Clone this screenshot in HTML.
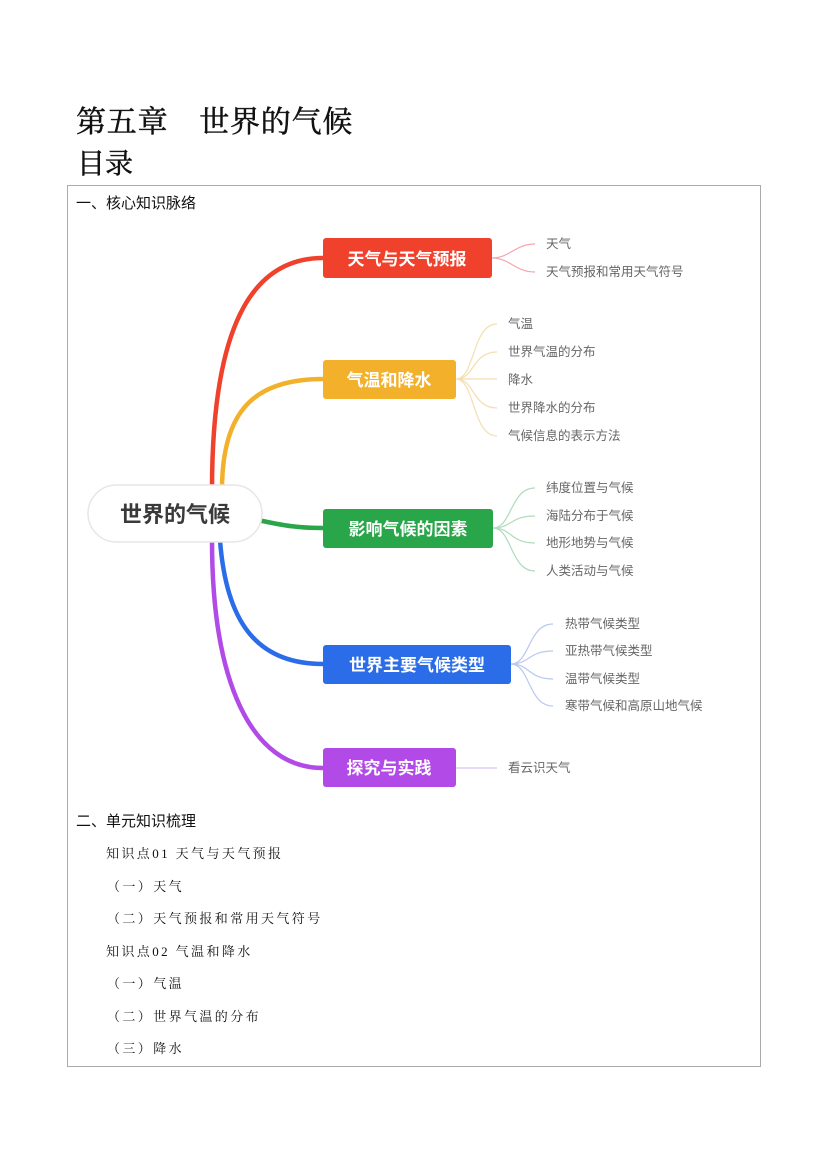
<!DOCTYPE html>
<html><head><meta charset="utf-8"><style>
body{margin:0;background:#fff;}
svg{display:block}
</style></head><body>
<svg width="827" height="1169" viewBox="0 0 827 1169" xmlns="http://www.w3.org/2000/svg">
<g font-family="'Liberation Serif','Noto Serif CJK SC',serif" fill="#111" stroke="#111" stroke-width="0.5">
<text x="76" y="132" font-size="30" letter-spacing="0.8">第五章　世界的气候</text>
<text x="77" y="173" font-size="28">目录</text>
</g>
<rect x="67.5" y="185.5" width="693" height="881" fill="none" stroke="#aaa" stroke-width="1"/>
<g font-family="'Liberation Sans','Noto Sans CJK SC',sans-serif">
<text x="76" y="208" font-size="15" fill="#111">一、核心知识脉络</text>
<g fill="none" stroke-width="4.5" stroke-linecap="round">
<path d="M212 490 C212 330 250 258 323 258" stroke="#f0412d"/>
<path d="M222 490 C222 410 255 379 323 379" stroke="#f3b12b"/>
<path d="M258 520 C285 526 300 528 323 528" stroke="#2aa64a"/>
<path d="M220 540 C226 620 255 664 323 664" stroke="#2b6de8"/>
<path d="M212 540 C212 680 250 768 323 768" stroke="#b14ae6"/>
</g>
<g fill="none" stroke-width="1.2">
<path d="M492 258 C510 258 515 244 535 244 M492 258 C510 258 515 272 535 272" stroke="#f3a6b0"/>
<path d="M456 379 C475 379 472 324 497 324 M456 379 C475 379 472 352 497 352 M456 379 L497 379 M456 379 C475 379 472 408 497 408 M456 379 C475 379 472 436 497 436" stroke="#f5deb0"/>
<path d="M493 528 C512 528 510 488 535 488 M493 528 C512 528 510 516 535 516 M493 528 C512 528 510 543 535 543 M493 528 C512 528 510 571 535 571" stroke="#aedcbc"/>
<path d="M511 664 C530 664 528 624 553 624 M511 664 C530 664 528 651 553 651 M511 664 C530 664 528 679 553 679 M511 664 C530 664 528 706 553 706" stroke="#b9c8f0"/>
<path d="M456 768 L497 768" stroke="#ddc2f0"/>
</g>
<rect x="88" y="485" width="174" height="57" rx="28.5" fill="#fff" stroke="#e6e6e6" stroke-width="1.5"/>
<text x="175" y="522" font-size="22" font-weight="bold" fill="#3a3a3a" text-anchor="middle">世界的气候</text>
<g font-size="17" font-weight="bold" fill="#fff" text-anchor="middle">
<rect x="323" y="238" width="169" height="40" rx="3" fill="#f0412d"/><text x="407" y="265">天气与天气预报</text>
<rect x="323" y="360" width="133" height="39" rx="3" fill="#f3b12b"/><text x="389" y="386">气温和降水</text>
<rect x="323" y="509" width="170" height="39" rx="3" fill="#2aa64a"/><text x="408" y="535">影响气候的因素</text>
<rect x="323" y="645" width="188" height="39" rx="3" fill="#2b6de8"/><text x="417" y="671">世界主要气候类型</text>
<rect x="323" y="748" width="133" height="39" rx="3" fill="#b14ae6"/><text x="389" y="774">探究与实践</text>
</g>
<g font-size="12.5" fill="#666">
<text x="546" y="248">天气</text>
<text x="546" y="276">天气预报和常用天气符号</text>
<text x="508" y="328">气温</text>
<text x="508" y="356">世界气温的分布</text>
<text x="508" y="384">降水</text>
<text x="508" y="412">世界降水的分布</text>
<text x="508" y="440">气候信息的表示方法</text>
<text x="546" y="492">纬度位置与气候</text>
<text x="546" y="520">海陆分布于气候</text>
<text x="546" y="547">地形地势与气候</text>
<text x="546" y="575">人类活动与气候</text>
<text x="565" y="628">热带气候类型</text>
<text x="565" y="655">亚热带气候类型</text>
<text x="565" y="683">温带气候类型</text>
<text x="565" y="710">寒带气候和高原山地气候</text>
<text x="508" y="772">看云识天气</text>
</g>
<text x="76" y="826" font-size="15" fill="#111">二、单元知识梳理</text>
</g>
<g font-family="'Liberation Serif','Noto Serif CJK SC',serif" font-size="13" fill="#111" letter-spacing="2.4">
<text x="106" y="858">知识点01 天气与天气预报</text>
<text x="107" y="891">（一）天气</text>
<text x="107" y="923">（二）天气预报和常用天气符号</text>
<text x="106" y="956">知识点02 气温和降水</text>
<text x="107" y="988">（一）气温</text>
<text x="107" y="1021">（二）世界气温的分布</text>
<text x="107" y="1053">（三）降水</text>
</g>
</svg>
</body></html>
